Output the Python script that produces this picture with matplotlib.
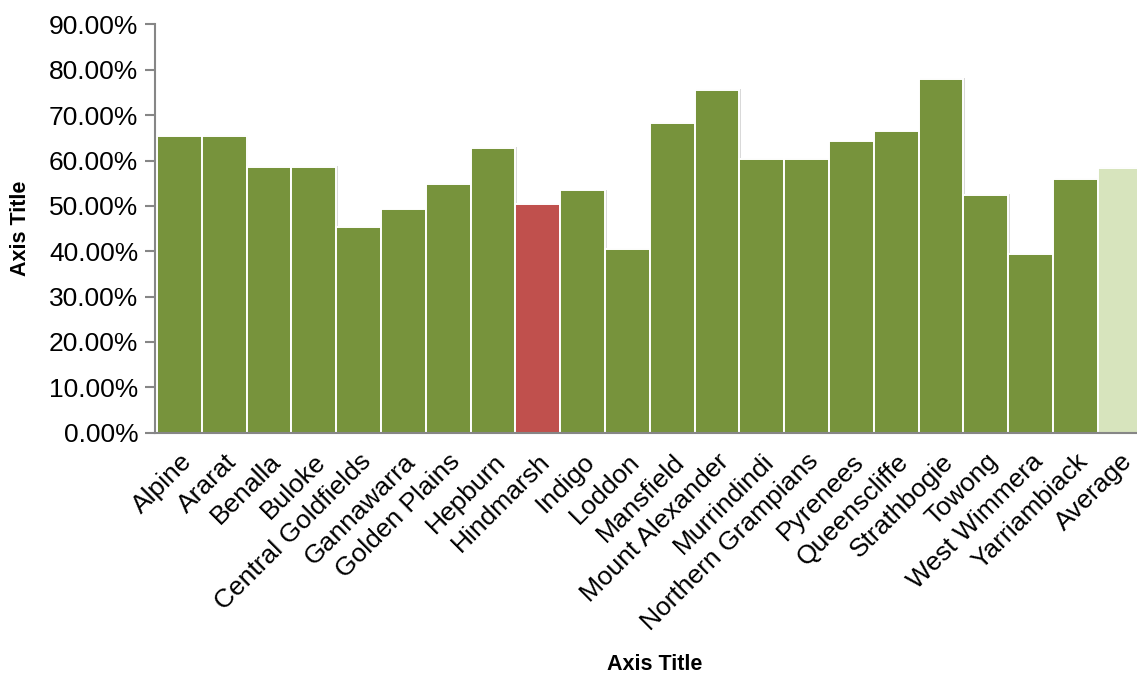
import matplotlib.pyplot as plt
from matplotlib.ticker import PercentFormatter

plt.rcParams['font.family'] = ['Liberation Sans', 'DejaVu Sans']

councils = ['Alpine', 'Ararat', 'Benalla', 'Buloke', 'Central Goldfields',
            'Gannawarra', 'Golden Plains', 'Hepburn', 'Hindmarsh', 'Indigo',
            'Loddon', 'Mansfield', 'Mount Alexander', 'Murrindindi',
            'Northern Grampians', 'Pyrenees', 'Queenscliffe', 'Strathbogie',
            'Towong', 'West Wimmera', 'Yarriambiack', 'Average']
shares = [0.653, 0.655, 0.586, 0.586, 0.454, 0.492, 0.548, 0.628, 0.504,
          0.534, 0.405, 0.683, 0.755, 0.604, 0.603, 0.642, 0.664, 0.780,
          0.524, 0.394, 0.559, 0.584]
highlight = 'Hindmarsh'

green = '#77933C'
red = '#C0504D'
pale = '#D7E4BD'
colours = []
for name in councils:
    if name == highlight:
        colours.append(red)
    elif name == 'Average':
        colours.append(pale)
    else:
        colours.append(green)

fig = plt.figure(figsize=(11.37, 6.78), dpi=100)
ax = fig.add_axes([155 / 1137, 1 - 432.5 / 678, 1 - 155 / 1137, (432.5 - 24.5) / 678])

x = range(len(councils))
# faint shadow behind the bars
ax.bar([i + 0.04 for i in x], [v + 0.002 for v in shares], width=1.0,
       color='#d9d9d9', linewidth=0, zorder=1)
ax.bar(x, shares, width=1.0, color=colours, edgecolor='white', linewidth=1.4, zorder=2)

ax.set_xlim(-0.545, 21.375)
ax.set_ylim(0, 0.9)
ax.set_yticks([i / 10 for i in range(10)])
ax.yaxis.set_major_formatter(PercentFormatter(1.0, decimals=2))

ax.set_xticks(list(x))
ax.set_xticklabels(councils, rotation=45, ha='right', rotation_mode='anchor')
ax.tick_params(axis='x', length=0, pad=12, labelsize=19)
ax.tick_params(axis='y', length=7, width=1.5, color='#868686', labelsize=19, pad=5)

for side in ['top', 'right']:
    ax.spines[side].set_visible(False)
for side in ['left', 'bottom']:
    ax.spines[side].set_color('#868686')
    ax.spines[side].set_linewidth(1.5)
    ax.spines[side].set_zorder(3)

fig.text(655 / 1137, 1 - 665 / 678, 'Axis Title', ha='center', va='center',
         fontsize=15.5, fontweight='bold')
fig.text(20 / 1137, 1 - 228 / 678, 'Axis Title', ha='center', va='center',
         rotation=90, fontsize=15.5, fontweight='bold')

fig.savefig('out.png', dpi=100)
